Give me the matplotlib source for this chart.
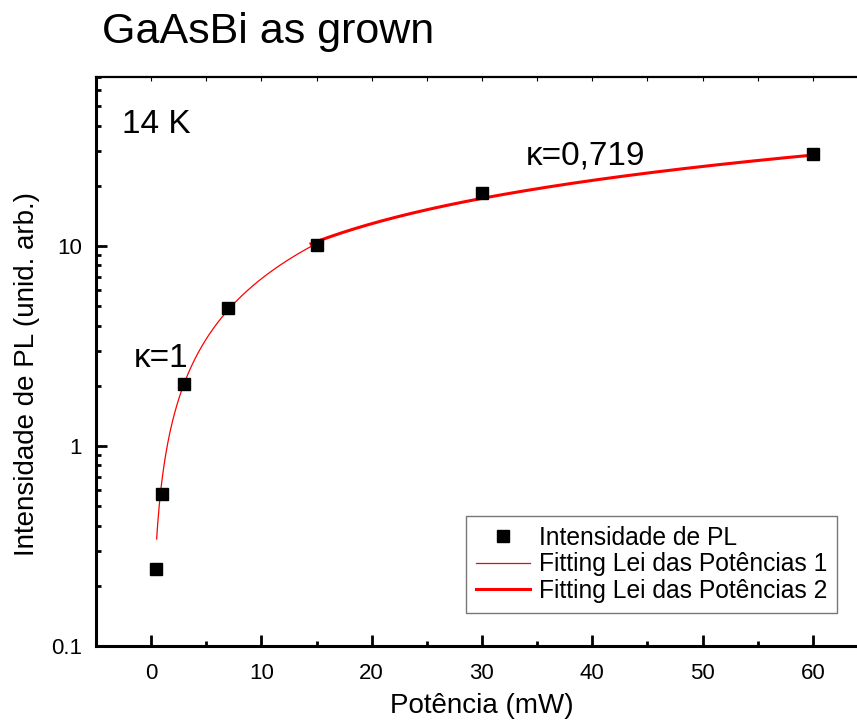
import numpy as np
import matplotlib
matplotlib.use('Agg')
import matplotlib.pyplot as plt
from matplotlib.ticker import LogLocator, MultipleLocator, NullFormatter, FixedFormatter, FixedLocator

plt.rcParams.update({
    'font.family': ['Liberation Sans', 'DejaVu Sans'],
    'font.size': 16,
})

# measured PL intensity vs excitation power
power = [0.4, 1, 3, 7, 15, 30, 60]
intensity = [0.243, 0.575, 2.04, 4.9, 10.1, 18.4, 28.8]

# power-law fits I = A * P^k
k1, A1 = 1.0, 0.686
k2, A2 = 0.719, 1.50
p_fit1 = np.linspace(0.5, 15, 300)
p_fit2 = np.linspace(14.5, 60, 300)

fig = plt.figure(figsize=(8.57, 7.24), dpi=100)
ax = fig.add_axes([0.112, 0.1077, 0.9008, 0.786])

ax.plot(power, intensity, 's', color='black', markersize=9, label='Intensidade de PL', zorder=3)
ax.plot(p_fit1, A1 * p_fit1 ** k1, '-', color='red', lw=0.9, label='Fitting Lei das Potências 1')
ax.plot(p_fit2, A2 * p_fit2 ** k2, '-', color='red', lw=2.2, label='Fitting Lei das Potências 2')

ax.set_yscale('log')
ax.set_xlim(-5, 65)
ax.set_ylim(0.1, 70)

ax.xaxis.set_major_locator(MultipleLocator(10))
ax.xaxis.set_minor_locator(MultipleLocator(5))
ax.yaxis.set_major_locator(FixedLocator([0.1, 1, 10]))
ax.yaxis.set_major_formatter(FixedFormatter(['0.1', '1', '10']))
ax.yaxis.set_minor_locator(LogLocator(base=10, subs=np.arange(2, 10)))
ax.yaxis.set_minor_formatter(NullFormatter())

ax.tick_params(axis='both', which='major', direction='in', length=8, width=2, labelsize=16)
ax.tick_params(axis='both', which='minor', direction='in', length=3.5, width=2)
ax.tick_params(axis='x', which='major', pad=12)
ax.tick_params(axis='y', which='major', pad=10)
ax.tick_params(axis='x', which='both', top=True, labeltop=False)
for t in ax.xaxis.get_ticklines(minor=False)[1::2] + ax.xaxis.get_ticklines(minor=True)[1::2]:
    t.set_markersize(3)
    t.set_markeredgewidth(0.8)
    t.set_color('#555555')

for s in ['left', 'bottom']:
    ax.spines[s].set_linewidth(2.2)
ax.spines['top'].set_linewidth(1.6)
ax.spines['right'].set_visible(False)

ax.set_xlabel('Potência (mW)', fontsize=20, labelpad=7)
ax.set_ylabel('Intensidade de PL (unid. arb.)', fontsize=20, labelpad=8)
ax.yaxis.label.set_y(0.478)
fig.text(0.1187, 0.9406, 'GaAsBi as grown', fontsize=31, va='baseline', ha='left')

ax.text(0.0333, 0.902, '14 K', transform=ax.transAxes, fontsize=24, va='baseline')
ax.text(-1.6, 2.49, 'κ=1', fontsize=24, va='baseline')
ax.text(34.0, 25.7, 'κ=0,719', fontsize=24, va='baseline')

leg = ax.legend(loc='upper right', bbox_to_anchor=(0.9598, 0.2285), borderaxespad=0,
                frameon=True, fancybox=False, edgecolor='#555555', fontsize=17.7,
                handlelength=2.2, handletextpad=0.35, borderpad=0.4,
                labelspacing=0.1, markerscale=0.9)
leg.get_frame().set_linewidth(1.0)

fig.savefig('out.png', dpi=100)
